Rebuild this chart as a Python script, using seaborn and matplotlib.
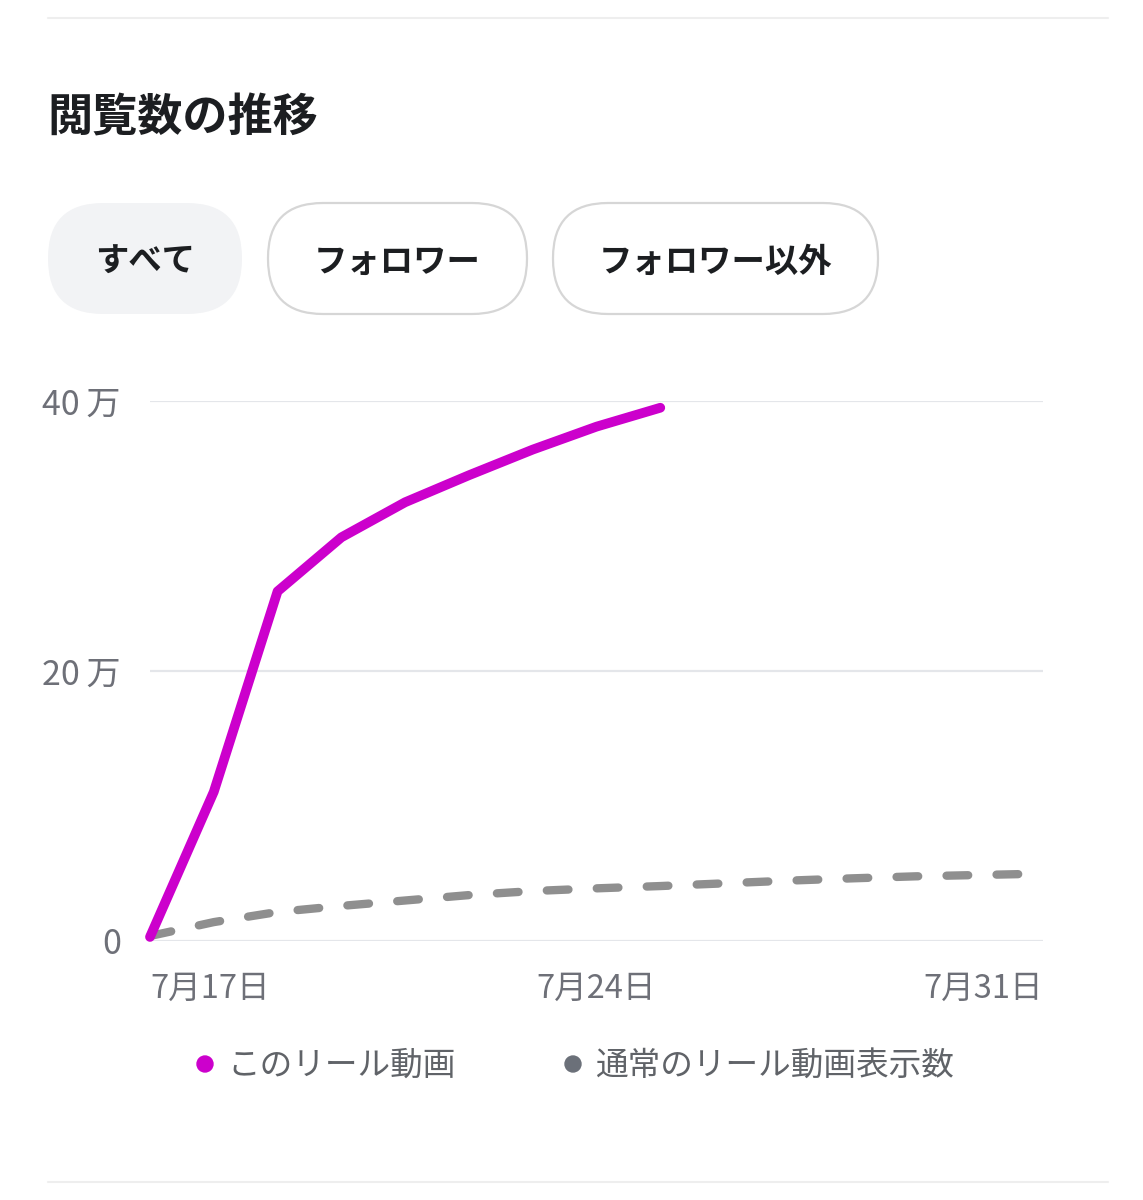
import matplotlib
matplotlib.use("Agg")
import matplotlib.pyplot as plt
import seaborn as sns
import pandas as pd
from matplotlib.patches import FancyBboxPatch, Circle

# ---- data ----
days_this = [17, 18, 19, 20, 21, 22, 23, 24, 25]
views_this = [3000, 110500, 259000, 299000, 325000, 345000, 364000, 381000, 395000]

days_avg = [17, 18, 19, 20, 21, 22, 23, 24, 25, 26, 27, 28, 29, 30, 31]
views_avg = [3700, 14000, 21500, 26000, 30000, 34000, 37000, 39000, 40700,
             42700, 44700, 46400, 47900, 48900, 49900]

tick_days = [17, 24, 31]
tick_day_labels = ["7月17日", "7月24日", "7月31日"]
y_ticks = [0, 200000, 400000]
y_tick_labels = ["0", "20\u2009万", "40\u2009万"]

title = "閲覧数の推移"
pill_labels = ["すべて", "フォロワー", "フォロワー以外"]
series_names = ["このリール動画", "通常のリール動画表示数"]

# ---- style ----
sns.set_theme(style="white")
plt.rcParams["font.family"] = ["Noto Sans CJK JP", "DejaVu Sans"]

W, H = 1143, 1200
fig = plt.figure(figsize=(W / 100, H / 100), dpi=100)
fig.patch.set_facecolor("white")

overlay = fig.add_axes([0, 0, 1, 1])
overlay.set_xlim(0, W)
overlay.set_ylim(H, 0)
overlay.axis("off")

MAGENTA = "#cc00cc"
GRAY_LINE = "#8f8f8f"
TICK_COL = "#6e7078"
LEG_COL = "#606368"
DARK = "#1c1e21"

# separators
overlay.plot([48, 1108], [18, 18], color="#eeeeee", lw=1.5)
overlay.plot([48, 1108], [1182, 1182], color="#eeeeee", lw=1.5)

# title
overlay.text(47, 118, title, ha="left", va="center", fontsize=32.5,
             fontweight="bold", color=DARK)

# pills
pills = [(48, 203, 194, 111, "#f2f3f5", "none"),
         (268, 203, 259, 111, "white", "#d6d6d6"),
         (553, 203, 325, 111, "white", "#d6d6d6")]
for (x, y, w, h, fc, ec), lab in zip(pills, pill_labels):
    p = FancyBboxPatch((x, y), w, h, boxstyle="round,pad=0,rounding_size=55",
                       fc=fc, ec=ec, lw=1.6)
    overlay.add_patch(p)
    overlay.text(x + w / 2, y + h / 2 + 4, lab, ha="center", va="center",
                 fontsize=24, fontweight="bold", color=DARK)

# legend
leg = [(205, MAGENTA, series_names[0]), (573, "#6b7079", series_names[1])]
for x, c, lab in leg:
    overlay.add_patch(Circle((x, 1064), 8, color=c))
    overlay.text(x + 22, 1066, lab, ha="left", va="center", fontsize=23.5,
                 color=LEG_COL)

# ---- chart ----
ax = fig.add_axes([150 / W, 1 - 941 / H, (1043 - 150) / W, (941 - 401) / H])
ax.set_facecolor("none")

df_this = pd.DataFrame({"day": days_this, "views": views_this})
df_avg = pd.DataFrame({"day": days_avg, "views": views_avg})

sns.lineplot(data=df_avg, x="day", y="views", ax=ax, color=GRAY_LINE, lw=6,
             linestyle=(0, (2.6, 3.4)), dash_capstyle="round",
             errorbar=None, clip_on=False)
sns.lineplot(data=df_this, x="day", y="views", ax=ax, color=MAGENTA, lw=7,
             solid_capstyle="round", solid_joinstyle="round",
             errorbar=None, clip_on=False)

ax.set_xlim(17, 31)
ax.set_ylim(0, 400000)
ax.set_yticks(y_ticks)
ax.set_yticklabels(y_tick_labels)
ax.set_xticks(tick_days)
ax.set_xticklabels(tick_day_labels)
ax.set_xlabel("")
ax.set_ylabel("")
for s in ax.spines.values():
    s.set_visible(False)
ax.yaxis.grid(True, color="#e4e6ea", lw=1.6)
ax.xaxis.grid(False)
ax.set_axisbelow(True)
ax.tick_params(axis="y", length=0, pad=21, labelsize=24.5, labelcolor=TICK_COL)
ax.tick_params(axis="x", length=0, pad=23, labelsize=23.5, labelcolor=TICK_COL)
xl = ax.get_xticklabels()
xl[0].set_ha("left")
xl[1].set_ha("center")
xl[2].set_ha("right")

fig.savefig("out.png", dpi=100, facecolor="white")
